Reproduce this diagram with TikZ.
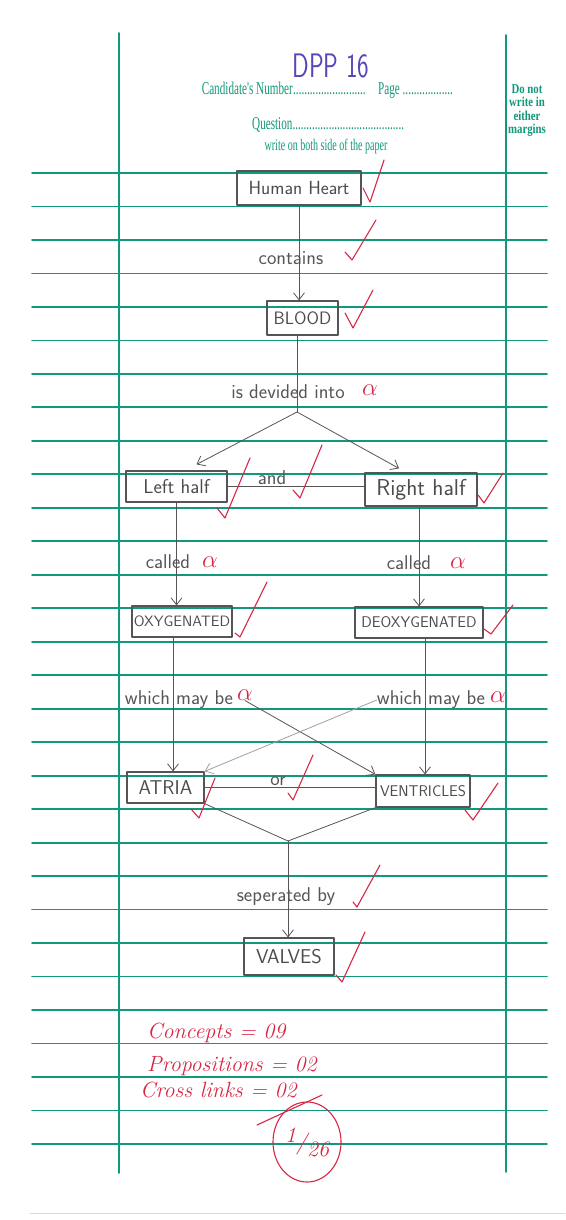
\documentclass[tikz,border=0pt]{standalone}
\usepackage{fontspec}
\newfontfamily\formfont[FakeStretch=0.62]{Liberation Serif}
\newfontfamily\marginfont[FakeStretch=0.8]{Liberation Serif}
\usetikzlibrary{arrows.meta}
\definecolor{rulegreen}{RGB}{18,152,122}
\definecolor{pencil}{RGB}{85,85,85}
\definecolor{markred}{RGB}{214,40,70}
\definecolor{penblue}{RGB}{85,70,185}
\newcommand\dotrun[1]{\hbox to #1{\leaders\hbox{.}\hfill}}

\begin{document}
\begin{tikzpicture}[x=1pt,y=-1pt,line cap=round,line join=round,
  rule/.style={rulegreen,line width=1.8pt},
  formtext/.style={text=rulegreen,inner sep=0pt,font=\fontsize{18}{20}\formfont},
  concept/.style={draw=pencil,line width=1.2pt,inner sep=0pt,text=pencil!90!black,font=\fontsize{19}{22}\sffamily},
  linkword/.style={text=pencil,inner sep=0pt,font=\fontsize{20}{23}\sffamily},
  link/.style={draw=pencil,line width=0.8pt},
  arrowed/.style={link,-{Straight Barb[length=7pt,width=11pt]}},
  redmark/.style={draw=markred,line width=1.1pt},
  alphamark/.style={text=markred,inner sep=0pt,font=\fontsize{24}{24}\selectfont},
  score/.style={text=markred,inner sep=0pt,anchor=base west,font=\fontsize{22}{24}\itshape}]
\useasboundingbox (0,0) rectangle (565,1220);
\fill[white] (0,0) rectangle (565,1220);
% ruled sheet
\foreach \i in {0,...,29}
  \draw[rule] (32,{173+33.48*\i}) -- (547,{173+33.48*\i});
\draw[rule] (119,33) -- (119,1173);
\draw[rule] (506,35) -- (506,1172);
\draw[black!15,line width=1pt] (30,1213) -- (565,1213);
% printed header
\node[formtext,anchor=base east] (candidate) at (293,95) {Candidate's Number};
\node[formtext,anchor=base west] (candots) at (candidate.base east) {\dotrun{75pt}};
\node[formtext,anchor=base west] (page) at (378,95) {Page \dotrun{52pt}};
\node[formtext,anchor=base west] (question) at (252,130) {Question\dotrun{112pt}};
\node[formtext,anchor=base,font=\fontsize{16.2}{18}\formfont] (bothsides) at (326,150) {write on both side of the paper};
\node[formtext,font=\fontsize{13.5}{13.6}\marginfont\bfseries,align=center,anchor=north] (margins) at (527,84) {Do not\\write in\\either\\margins};
\node[text=penblue,inner sep=0pt,font=\fontsize{34}{34}\sffamily,anchor=base] (candno) at (331,78) {\scalebox{0.72}[1]{DPP 16}};
% concepts
\node[concept,minimum width=124pt,minimum height=34pt] (heart) at (299,188) {Human Heart};
\node[concept,minimum width=71pt,minimum height=34pt,font=\fontsize{18}{21}\sffamily] (blood) at (302.5,318) {BLOOD};
\node[concept,minimum width=101pt,minimum height=31pt,font=\fontsize{20}{23}\sffamily] (lefthalf) at (176.5,486.5) {Left half};
\node[concept,minimum width=112pt,minimum height=33pt,font=\fontsize{23}{25}\sffamily] (righthalf) at (421,489.5) {Right half};
\node[concept,minimum width=100pt,minimum height=31pt,font=\fontsize{15}{17}\sffamily] (oxy) at (182,621.5) {OXYGENATED};
\node[concept,minimum width=128pt,minimum height=31pt,font=\fontsize{15.5}{17}\sffamily] (deoxy) at (419,622.5) {DEOXYGENATED};
\node[concept,minimum width=77pt,minimum height=31pt,font=\fontsize{20}{23}\sffamily] (atria) at (165.5,787.5) {ATRIA};
\node[concept,minimum width=94pt,minimum height=32pt,font=\fontsize{15.5}{17}\sffamily] (ventricles) at (423,791) {VENTRICLES};
\node[concept,minimum width=90pt,minimum height=37pt,font=\fontsize{20}{23}\sffamily] (valves) at (289,956.5) {VALVES};
% linking words
\node[linkword] (contains) at (291,258) {contains};
\node[linkword] (divided) at (288,392) {is devided into};
\node[linkword] (andword) at (272,478) {and};
\node[linkword] (calledl) at (168,562) {called};
\node[linkword] (calledr) at (409,563) {called};
\node[linkword] (whichl) at (179,700) {which may be};
\node[linkword] (whichr) at (431,700) {which may be};
\node[linkword] (orword) at (278,781) {or};
\node[linkword] (separated) at (286,897) {seperated by};
\node[alphamark] (alphadiv) at (370,390) {$\alpha$};
\node[alphamark] (alphacl) at (210,562) {$\alpha$};
\node[alphamark] (alphacr) at (458,563) {$\alpha$};
\node[alphamark] (alphawl) at (245,695) {$\alpha$};
\node[alphamark] (alphawr) at (498,697) {$\alpha$};
% connectors
\draw[arrowed] (heart.south) -- (heart.south |- blood.north);
\coordinate (split) at (297,412);
\draw[link] (blood.south -| split) -- (split);
\draw[arrowed] (split) -- ([xshift=20pt,yshift=6pt]lefthalf.north);
\draw[arrowed] (split) -- ([xshift=-22pt,yshift=4pt]righthalf.north);
\draw[link] (lefthalf.east) -- (lefthalf.east -| righthalf.west);
\draw[arrowed] (lefthalf.south) -- (lefthalf.south |- oxy.north);
\draw[arrowed] (deoxy.north |- righthalf.south) -- (deoxy.north);
\coordinate (oxyout) at ([xshift=-9pt]oxy.south);
\draw[arrowed] (oxyout) -- (oxyout |- atria.north);
\coordinate (deoxyout) at ([xshift=6pt]deoxy.south);
\draw[arrowed] (deoxyout) -- (deoxyout |- ventricles.north);
\draw[arrowed] (alphawl.south) -- (ventricles.north west);
\draw[arrowed,draw=pencil!55] (whichr.west) -- (atria.north east);
\draw[link] (atria.east) -- (atria.east -| ventricles.west);
\coordinate (merge) at (288,841);
\draw[link] (atria.south east) -- (merge) -- (ventricles.south west);
\draw[arrowed] (merge) -- (merge |- valves.north);
% marker's ticks
\draw[redmark] (363,188) -- (370,202) -- (384,160);
\draw[redmark] (345,252) -- (352,260) -- (376,220);
\draw[redmark] (345,313) -- (353,328) -- (373,290);
\draw[redmark] (217,508) -- (225,518) -- (250,458);
\draw[redmark] (293,490) -- (300,498) -- (322,445);
\draw[redmark] (478,495) -- (484,503) -- (503,473);
\draw[redmark] (235,633) -- (240,637) -- (267,582);
\draw[redmark] (484,629) -- (491,634) -- (513,605);
\draw[redmark] (191,809) -- (199,818) -- (215,778);
\draw[redmark] (288,793) -- (293,800) -- (313,755);
\draw[redmark] (465,810) -- (473,820) -- (498,783);
\draw[redmark] (353,902) -- (357,907) -- (380,865);
\draw[redmark] (336,975) -- (342,982) -- (365,932);
% score
\node[score] (concepts) at (147,1038) {Concepts = 09};
\node[score] (props) at (147,1071) {Propositions = 02};
\node[score] (cross) at (140,1097) {Cross links = 02};
\draw[redmark] (257,1125) -- (322,1095);
\draw[redmark] (307,1142) ellipse (34 and 40);
\node[score,anchor=center] (total) at (307,1142) {\raisebox{7pt}{1}/\raisebox{-7pt}{26}};
\end{tikzpicture}
\end{document}
